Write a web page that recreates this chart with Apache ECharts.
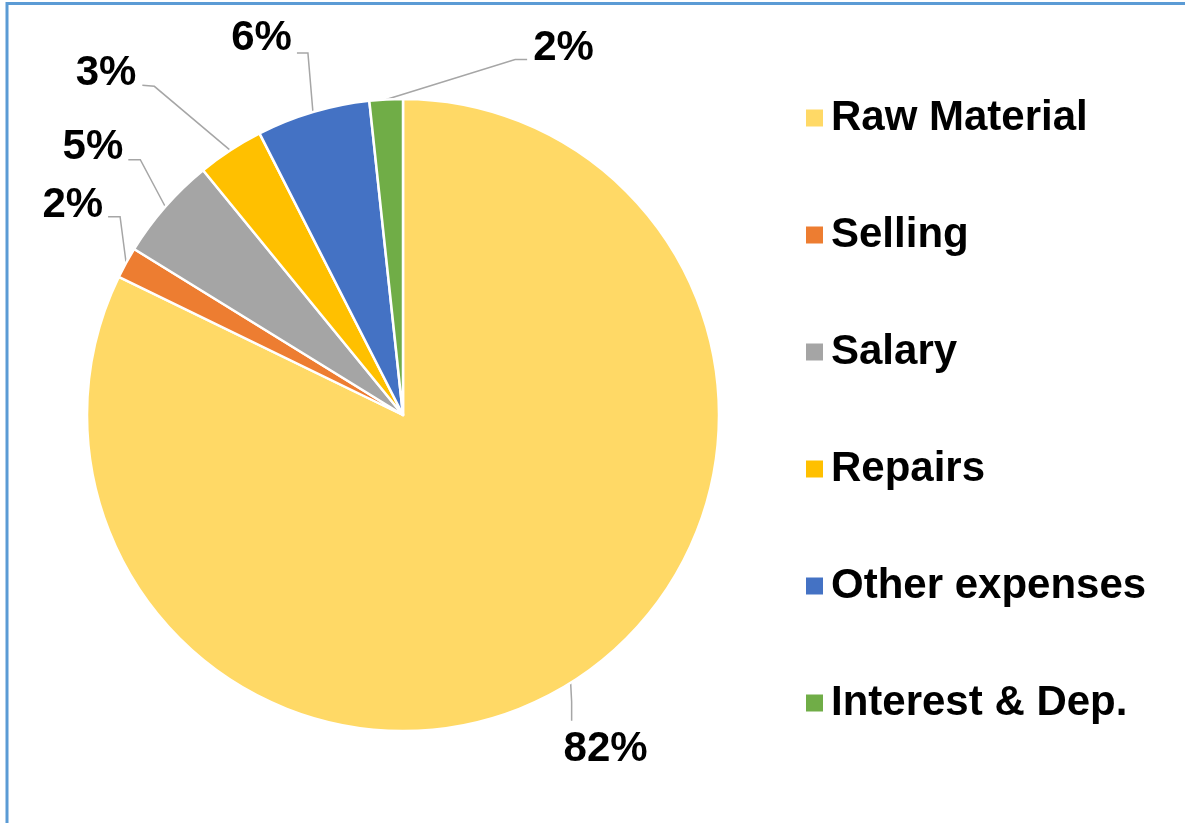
<!DOCTYPE html>
<html>
<head>
<meta charset="utf-8">
<script src="https://cdn.jsdelivr.net/npm/echarts@6/dist/echarts.min.js"></script>
<style>
html,body{margin:0;padding:0;background:#fff;}
#chart{width:1185px;height:823px;}
</style>
</head>
<body>
<div id="chart"></div>
<script>
// ---- data ----
const categories = ['Raw Material', 'Selling', 'Salary', 'Repairs', 'Other expenses', 'Interest & Dep.'];
const values = [82.2, 1.6, 5.3, 3.4, 5.8, 1.7];
const colors = ['#FFD966', '#ED7D31', '#A5A5A5', '#FFC000', '#4472C4', '#70AD47'];

// ---- label leader styling (offsets relative to the slice's outer mid point) ----
// [bend dx, bend dy, end dx, end dy, text dx, text dy, align]
const leaderStyle = [
  [1, 19, 1, 38, 35, 67, 'center'],
  [-6, -46, -18, -46, -23, -57, 'right'],
  [-25, -47, -37, -47, -42, -59, 'right'],
  [-76, -64, -88, -65, -94, -77, 'right'],
  [-5, -59, -16, -59, -21, -74, 'right'],
  [129, -40, 141, -40, 147, -51, 'left']
];

const chart = echarts.init(document.getElementById('chart'), null, {renderer: 'canvas'});
const fontFam = '"Liberation Sans", Arial, sans-serif';

chart.setOption({
  animation: false,
  backgroundColor: '#ffffff',
  graphic: [
    {type: 'line', shape: {x1: 7, y1: 3.5, x2: 1185, y2: 3.5}, style: {stroke: '#5B9BD5', lineWidth: 3}, silent: true},
    {type: 'line', shape: {x1: 7, y1: 2, x2: 7, y2: 823}, style: {stroke: '#5B9BD5', lineWidth: 3}, silent: true}
  ],
  legend: {
    orient: 'vertical',
    left: 801,
    top: 92,
    itemWidth: 17,
    itemHeight: 17,
    itemGap: 75,
    itemStyle: {borderWidth: 0},
    icon: 'rect',
    textStyle: {fontFamily: fontFam, fontSize: 42, fontWeight: 'bold', color: '#000', lineHeight: 42, padding: [0, 0, 0, 3]},
    data: categories
  },
  series: [{
    type: 'pie',
    center: [403, 415],
    radius: 316,
    startAngle: 90,
    clockwise: true,
    avoidLabelOverlap: false,
    silent: true,
    itemStyle: {borderColor: '#ffffff', borderWidth: 2.5},
    label: {
      show: true,
      position: 'outside',
      formatter: function (p) { return Math.round(p.value) + '%'; },
      fontFamily: fontFam,
      fontSize: 42,
      fontWeight: 'bold',
      color: '#000',
      lineHeight: 42
    },
    labelLine: {show: true, lineStyle: {color: '#A6A6A6', width: 1.5}},
    labelLayout: function (params) {
      const s = leaderStyle[params.dataIndex];
      const p0 = params.labelLinePoints[0];
      return {
        x: p0[0] + s[4],
        y: p0[1] + s[5],
        align: s[6],
        verticalAlign: 'middle',
        labelLinePoints: [[p0[0], p0[1]], [p0[0] + s[0], p0[1] + s[1]], [p0[0] + s[2], p0[1] + s[3]]]
      };
    },
    data: categories.map(function (c, i) {
      return {name: c, value: values[i], itemStyle: {color: colors[i]}};
    })
  }]
});
</script>
</body>
</html>
